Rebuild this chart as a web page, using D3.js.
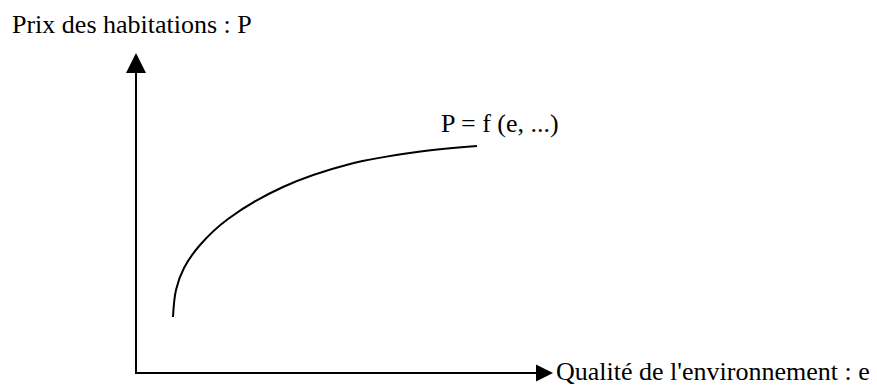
<!DOCTYPE html>
<html>
<head>
<meta charset="utf-8">
<script src="https://cdn.jsdelivr.net/npm/d3@7"></script>
<style>
html,body{margin:0;padding:0;background:#fff;}
svg text{font-family:"Liberation Serif","Times New Roman",serif;fill:#000;}
</style>
</head>
<body>
<svg id="chart" width="877" height="385"></svg>
<script>
// Curve values (axis units 0..100)
const qualityE = [8.87, 9.59, 11.51, 15.35, 22.06, 35.25, 51.32, 67.39, 81.77];
const priceP   = [17.5, 25.94, 32.81, 40, 48.13, 58.13, 65.31, 69.06, 70.94];
const yAxisTitle = "Prix des habitations : P";
const xAxisTitle = "Qualité de l'environnement : e";
const curveLabel = "P = f (e, ...)";

const svg = d3.select("#chart");
const x = d3.scaleLinear().domain([0, 100]).range([136, 553]);
const y = d3.scaleLinear().domain([0, 100]).range([373, 53]);

// axes lines
svg.append("line")
  .attr("x1", x(0)).attr("y1", y(0)).attr("x2", x(0)).attr("y2", y(94))
  .attr("stroke", "#000").attr("stroke-width", 2);
svg.append("line")
  .attr("x1", x(0) - 1).attr("y1", y(0)).attr("x2", x(96)).attr("y2", y(0))
  .attr("stroke", "#000").attr("stroke-width", 2);
// arrow heads
svg.append("path")
  .attr("d", `M${x(0)},${y(100)} L${x(0)-10},${y(100)+20} L${x(0)+10},${y(100)+20} Z`)
  .attr("fill", "#000");
svg.append("path")
  .attr("d", `M${x(100)},${y(0)} L${x(100)-17},${y(0)-8.5} L${x(100)-17},${y(0)+8.5} Z`)
  .attr("fill", "#000");

const pts = qualityE.map((e, i) => [e, priceP[i]]);
const line = d3.line().x(d => x(d[0])).y(d => y(d[1])).curve(d3.curveCatmullRom.alpha(0.5));
svg.append("path").datum(pts).attr("d", line)
  .attr("fill", "none").attr("stroke", "#000").attr("stroke-width", 2);

svg.append("text").attr("x", 12).attr("y", 33).attr("font-size", 26).text(yAxisTitle);
svg.append("text").attr("x", 556).attr("y", 380).attr("font-size", 26).text(xAxisTitle);
svg.append("text").attr("x", 441).attr("y", 132).attr("font-size", 26).text(curveLabel);
</script>
</body>
</html>
